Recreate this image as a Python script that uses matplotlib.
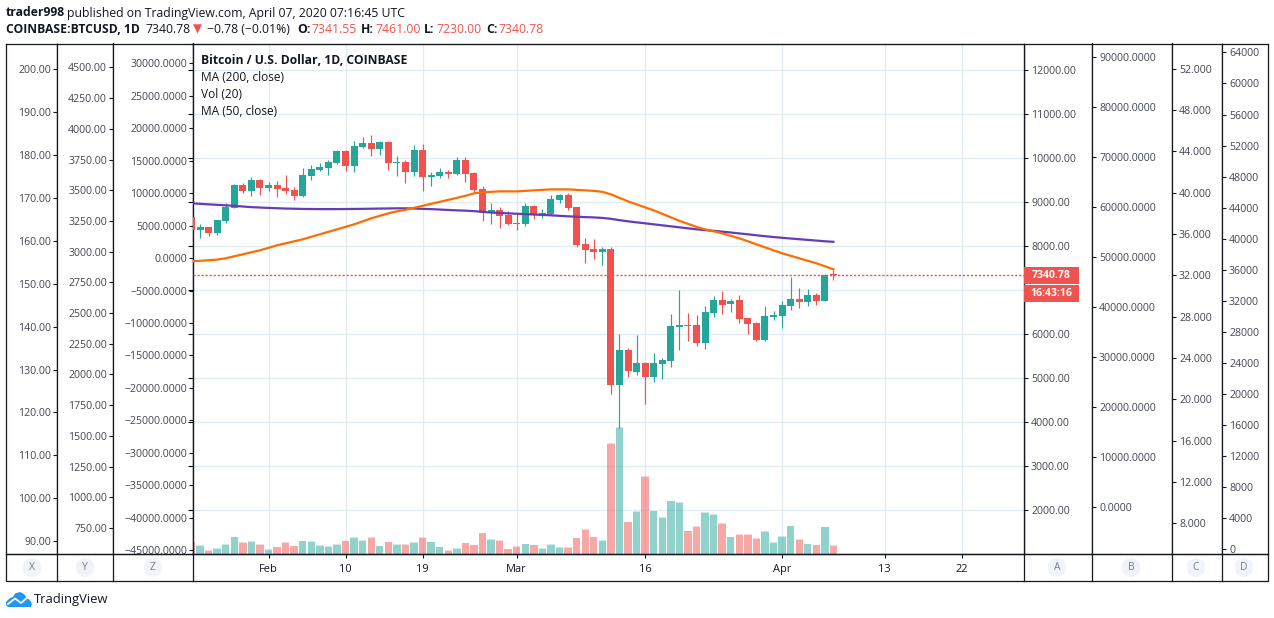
import matplotlib
matplotlib.use("Agg")
import matplotlib.pyplot as plt
import matplotlib.dates as mdates
from matplotlib.patches import Circle, Polygon, Rectangle
import numpy as np
import pandas as pd

plt.rcParams['font.family'] = ['Open Sans', 'DejaVu Sans']

W, H = 1274, 618

dates = pd.date_range("2020-01-23", "2020-04-07", freq="D")

opens = [8659, 8364, 8432, 8296, 8568, 8864, 9387, 9250, 9500, 9318, 9387, 9318, 9273, 9137, 9591, 9728, 9773, 9887, 10159,
         9818, 10250, 10341, 10205, 10364, 9887, 9909, 9682, 10182, 9568, 9591, 9682, 9637, 9955, 9659, 9296, 8750, 8818,
         8705, 8523, 8500, 8909, 8728, 8728, 9046, 9159, 8887, 8046, 7932, 7864, 7932, 4841, 5636, 5136, 5341, 5023, 5318,
         5386, 6159, 6205, 6205, 5795, 6477, 6773, 6682, 6773, 6364, 6250, 5864, 6386, 6409, 6636, 6795, 6727, 6886, 6750,
         7341.55]
highs = [8700, 8500, 8440, 8600, 8978, 9409, 9432, 9568, 9523, 9455, 9478, 9614, 9341, 9773, 9841, 9887, 9955, 10182, 10182,
         10387, 10478, 10523, 10387, 10387, 10046, 9955, 10296, 10318, 9682, 9773, 9728, 10023, 10023, 9682, 9364, 8978,
         8887, 8796, 8750, 8978, 8932, 8841, 9159, 9182, 9205, 8890, 8182, 8159, 7977, 7977, 6000, 5682, 5977, 5364, 5568,
         5455, 6455, 7000, 6477, 6432, 6636, 6864, 6977, 6795, 6886, 6370, 6273, 6636, 6523, 6750, 7295, 7045, 7023, 6932,
         7370, 7461]
lows = [8340, 8182, 8228, 8250, 8523, 8860, 9205, 9137, 9159, 9250, 9114, 9182, 9046, 9114, 9500, 9720, 9614, 9864, 9705,
        9682, 10228, 10046, 10068, 9728, 9591, 9432, 9591, 9250, 9364, 9546, 9546, 9630, 9455, 9205, 8568, 8500, 8409, 8490,
        8364, 8455, 8614, 8637, 8720, 8978, 8818, 7977, 7614, 7705, 7568, 4636, 3856, 5023, 5068, 4409, 4909, 4977, 5250,
        5636, 5841, 5727, 5659, 6386, 6455, 6500, 6250, 6000, 5841, 5841, 6318, 6136, 6545, 6591, 6636, 6659, 6745, 7230]
closes = [8371, 8432, 8296, 8591, 8887, 9387, 9250, 9500, 9318, 9387, 9296, 9250, 9137, 9614, 9750, 9796, 9909, 10159, 9818,
          10273, 10341, 10205, 10364, 9887, 9909, 9682, 10182, 9568, 9614, 9682, 9637, 9955, 9637, 9273, 8758, 8818, 8682,
          8500, 8500, 8909, 8728, 8750, 9068, 9159, 8864, 8023, 7909, 7864, 7932, 4841, 5636, 5159, 5341, 5023, 5341, 5409,
          6182, 6205, 6182, 5795, 6500, 6773, 6659, 6750, 6341, 6227, 5864, 6409, 6432, 6659, 6795, 6727, 6886, 6750, 7341,
          7340.78]
is_green = [False, True, False, True, True, True, False, True, False, True, False, False, False, True, True, True, True, True,
            False, True, True, False, True, False, True, False, True, False, True, True, False, True, False, False, False,
            True, False, False, False, True, False, True, True, True, False, False, False, False, True, False, True, False,
            True, False, True, True, True, True, False, False, True, True, False, True, False, False, False, True, True, True,
            True, False, True, False, True, False]

volume = [1552, 1036, 434, 649, 1165, 2197, 1423, 1552, 1165, 520, 907, 1423, 1036, 1681, 1552, 1036, 950, 1165, 1681, 2068,
          1681, 2068, 1036, 1552, 1165, 1165, 1423, 2068, 1552, 907, 391, 649, 1423, 1165, 2713, 1810, 1681, 649, 903, 1290,
          1161, 645, 1161, 774, 774, 2064, 3096, 2193, 1677, 14190, 16254, 4128, 5418, 9933, 5547, 4644, 6837, 6579, 2967,
          3483, 5289, 5031, 3870, 2193, 2451, 2451, 1935, 2838, 1419, 2193, 3612, 1806, 1290, 1161, 3483, 1032]
volume_cap = [1552, 1165, 520, 778, 1294, 2197, 1552, 1681, 1294, 649, 907, 1552, 1036, 1681, 1681, 1165, 1036, 1294, 1681,
              2197, 1810, 2197, 1036, 1552, 1294, 1294, 1552, 2197, 1552, 907, 520, 778, 1423, 1165, 2713, 1939, 1810, 649,
              1032, 1290, 1161, 774, 1290, 903, 903, 2064, 3225, 2193, 1806, 14319, 16383, 4128, 5547, 10062, 5547, 4773,
              6837, 6708, 2967, 3612, 5418, 5160, 3999, 2193, 2580, 2580, 2064, 2967, 1548, 2322, 3612, 1935, 1290, 1161,
              3483, 1161]

ma_50 = [7659, 7670, 7682, 7698, 7727, 7773, 7818, 7864, 7909, 7966, 8023, 8068, 8114, 8159, 8216, 8273, 8330, 8386, 8443,
         8500, 8568, 8636, 8693, 8750, 8795, 8830, 8875, 8920, 8966, 9011, 9057, 9102, 9148, 9205, 9227, 9239, 9250, 9250,
         9250, 9261, 9273, 9284, 9295, 9295, 9295, 9284, 9273, 9261, 9239, 9182, 9102, 9023, 8955, 8886, 8818, 8739,
         8659, 8580, 8511, 8443, 8386, 8341, 8295, 8239, 8182, 8114, 8045, 7977, 7909, 7841, 7784, 7727, 7670, 7614, 7545,
         7477]
ma_200 = [8977, 8966, 8955, 8943, 8932, 8921, 8905, 8891, 8882, 8873, 8866, 8859, 8855, 8850, 8848, 8846, 8846, 8846, 8848,
          8850, 8852, 8855, 8859, 8861, 8864, 8864, 8859, 8852, 8846, 8836, 8827, 8818, 8811, 8800, 8784, 8768, 8759, 8750,
          8741, 8732, 8723, 8714, 8705, 8693, 8682, 8673, 8664, 8657, 8646, 8625, 8595, 8568, 8545, 8523, 8500, 8477, 8455,
          8432, 8409, 8386, 8368, 8352, 8334, 8314, 8293, 8273, 8250, 8230, 8211, 8193, 8177, 8161, 8146, 8130, 8114, 8102]

last_price = 7340.78

time_tick_dates = ["2020-02-01", "2020-02-10", "2020-02-19", "2020-03-01", "2020-03-16", "2020-04-01", "2020-04-13", "2020-04-22"]
time_tick_labels = ["Feb", "10", "19", "Mar", "16", "Apr", "13", "22"]

x_ticks = list(range(90, 201, 10))
y_ticks = list(range(750, 4501, 250))
z_ticks = list(range(-45000, 30001, 5000))
a_ticks = list(range(2000, 12001, 1000))
# the 7000 label sits behind the countdown badge
a_labels = [t for t in a_ticks if t != 7000]
b_ticks = list(range(0, 90001, 10000))
c_ticks = list(range(8, 53, 4))
d_ticks = list(range(0, 64001, 4000))

UP = '#26a69a'
DOWN = '#ef5350'
GRID = '#e1ecf2'
INK = '#131722'
TEXT = '#434651'
LABEL_SIZE = 7.6


def rect(x0, y0, x1, y1):
    return [x0 / W, 1 - y1 / H, (x1 - x0) / W, (y1 - y0) / H]


def minus(s):
    return s.replace('-', '\u2212')


fig = plt.figure(figsize=(W / 100, H / 100), dpi=100, facecolor='white')

# scale strips: name, left, right, side, limits, ticks, format
strips = [
    ('X', 6, 56.5, 'left', (86.97, 206.06), x_ticks, '{:.2f}'),
    ('Y', 56.5, 112.5, 'left', (538.5, 4695), y_ticks, '{:.2f}'),
    ('Z', 112.5, 192.5, 'left', (-45616, 33080), z_ticks, '{:.4f}'),
    ('A', 1023.5, 1091.5, 'right', (1000, 12613.6), a_labels, '{:.2f}'),
    ('B', 1091.5, 1171.5, 'right', (-9400, 92800), b_ticks, '{:.4f}'),
    ('C', 1171.5, 1221.5, 'right', (5.04, 54.42), c_ticks, '{:.3f}'),
    ('D', 1221.5, 1267.5, 'right', (-644, 65155), d_ticks, '{:.0f}'),
]
for name, x0, x1, side, lim, ticks, fmt in strips:
    s = fig.add_axes(rect(x0, 43.5, x1, 554))
    s.set_ylim(*lim)
    s.set_xticks([])
    s.set_yticks(ticks)
    s.set_yticklabels([minus(fmt.format(t)) for t in ticks])
    if side == 'left':
        s.yaxis.tick_right()
        s.tick_params(axis='y', direction='in', length=3.2, width=0.8, color=INK, pad=-20)
        for lab in s.get_yticklabels():
            lab.set_horizontalalignment('right')
            lab.set_x(1 - 5.5 / (x1 - x0))
            lab.set_transform(s.get_yaxis_transform())
    else:
        s.yaxis.tick_left()
        s.tick_params(axis='y', direction='in', length=3.2, width=0.8, color=INK, pad=-20)
        for lab in s.get_yticklabels():
            lab.set_horizontalalignment('left')
            lab.set_x(7.5 / (x1 - x0))
            lab.set_transform(s.get_yaxis_transform())
    s.tick_params(axis='y', labelsize=LABEL_SIZE, labelcolor=TEXT)
    for sp in s.spines.values():
        sp.set_linewidth(0.9)
        sp.set_color(INK)

x = mdates.date2num(dates)
day0 = mdates.date2num(pd.Timestamp("2020-02-01"))
xlim = (day0 - 76 / 8.56, day0 + 755 / 8.56)
time_ticks = mdates.date2num(pd.to_datetime(time_tick_dates))
price_lim = (1000, 12613.6)

# grid layer
back = fig.add_axes(rect(192.5, 43.5, 1023.5, 554))
back.set_xlim(*xlim)
back.set_ylim(*price_lim)
back.set_xticks(time_ticks)
back.set_yticks(a_ticks)
back.grid(True, color=GRID, lw=1.0)
back.set_axisbelow(True)
back.tick_params(left=False, bottom=False, labelleft=False, labelbottom=False)

# volume layer
vol_ax = back.twinx()
vol_ax.set_ylim(0, 65930)
vol_ax.axis('off')
bar_colors = [UP if g else DOWN for g in is_green]
vol_ax.bar(x, volume, width=0.86, color=bar_colors, alpha=0.5, lw=0)
vol_ax.bar(x, np.array(volume_cap) - np.array(volume), bottom=volume, width=0.86, color=bar_colors, alpha=0.22, lw=0)

# candles and averages on top
ax = fig.add_axes(rect(192.5, 43.5, 1023.5, 554))
ax.patch.set_visible(False)
ax.set_xlim(*xlim)
ax.set_ylim(*price_lim)
ax.set_yticks([])
ax.vlines(x, lows, highs, colors=bar_colors, lw=0.85, zorder=2)
body_low = np.minimum(opens, closes)
body_high = np.maximum(opens, closes)
ax.bar(x, np.maximum(body_high - body_low, 30), bottom=body_low, width=0.82, color=bar_colors, lw=0, zorder=3)
ax.axhline(last_price, color=DOWN, lw=1.0, ls=(0, (1.6, 1.3)), zorder=4)
ax.plot(x, ma_200, color='#673ab7', lw=1.6, zorder=5)
ax.plot(x, ma_50, color='#ff6d00', lw=1.6, zorder=6)
ax.set_xticks(time_ticks)
ax.set_xticklabels(time_tick_labels)
ax.tick_params(axis='x', length=3, width=0.8, color=INK, labelsize=LABEL_SIZE + 0.3, labelcolor=INK, pad=4)
for sp in ax.spines.values():
    sp.set_linewidth(0.9)
    sp.set_color(INK)

# everything placed by pixel: boxes, header, badges, logo
deco = fig.add_axes([0, 0, 1, 1], zorder=10)
deco.set_xlim(0, W)
deco.set_ylim(H, 0)
deco.axis('off')

deco.add_patch(Rectangle((6, 554), 1261.5, 27, fill=False, ec=INK, lw=0.9))
for bx in [56.5, 112.5, 192.5, 1023.5, 1091.5, 1171.5, 1221.5]:
    deco.plot([bx, bx], [554, 581], color=INK, lw=0.9)
for letter, cx in [('X', 32), ('Y', 85), ('Z', 153), ('A', 1057), ('B', 1131), ('C', 1196), ('D', 1244)]:
    deco.add_patch(Circle((cx, 567.5), 9.3, color='#f0f3fa', lw=0))
    deco.text(cx, 567.5, letter, ha='center', va='center', fontsize=7.4, color='#787b86')

for y0, y1, label in [(267, 283.7, '7340.78'), (285, 302, '16:43:16')]:
    deco.add_patch(Rectangle((1024, y0), 55, y1 - y0, color=DOWN, lw=0))
    deco.text(1051.5, (y0 + y1) / 2, label, ha='center', va='center', fontsize=LABEL_SIZE, color='white', fontweight='bold')

head = dict(va='center', fontsize=8.8, color=INK)
deco.text(6, 13, 'trader998', fontweight='bold', **head)
deco.text(67, 13, 'published on TradingView.com, April 07, 2020 07:16:45 UTC', **head)
deco.text(6, 29.5, 'COINBASE:BTCUSD, 1D', fontweight='bold', fontsize=8.75, va='center', color=INK)
deco.text(145, 29.5, '7340.78', **head)
deco.text(192.5, 29.5, '\u25bc', va='center', fontsize=8.5, color=DOWN, family='DejaVu Sans')
deco.text(207, 29.5, '\u22120.78 (\u22120.01%)', **head)
for lx, lab, vx, val in [(297, 'O:', 311, '7341.55'), (361, 'H:', 375, '7461.00'), (424, 'L:', 436, '7230.00'), (486, 'C:', 498, '7340.78')]:
    deco.text(lx, 29.5, lab, fontweight='bold', **head)
    deco.text(vx, 29.5, val, va='center', fontsize=8.8, color=DOWN)

leg = dict(va='center', fontsize=8.6, color=INK)
deco.text(201, 60.5, 'Bitcoin / U.S. Dollar, 1D, COINBASE', fontweight='bold', fontsize=8.7, va='center', color=INK)
deco.text(201, 77.5, 'MA (200, close)', **leg)
deco.text(201, 94.5, 'Vol (20)', **leg)
deco.text(201, 111.5, 'MA (50, close)', **leg)

# logo
deco.add_patch(Polygon([(6, 605), (6, 602), (10, 598), (13, 597), (15, 593.5), (20, 592), (24, 594), (26, 597), (30, 600), (32, 604), (31, 607), (8, 607)],
                       closed=True, color='#2196f3', lw=0))
deco.plot([8, 15, 21, 28, 31], [604, 598.5, 603, 597, 600], color='white', lw=1.3)
deco.text(34, 600, 'TradingView', va='center', fontsize=9.4, color=INK)

fig.savefig('out.png', dpi=100, facecolor='white')
